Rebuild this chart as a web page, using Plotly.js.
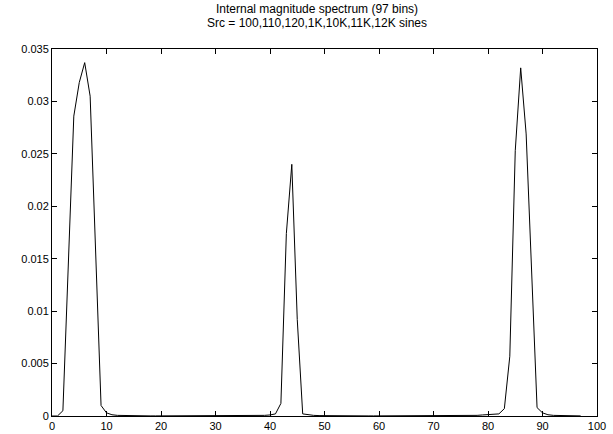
<!DOCTYPE html>
<html>
<head>
<meta charset="utf-8">
<script src="https://cdn.plot.ly/plotly-3.0.1.min.js"></script>
<style>html,body{margin:0;padding:0;background:#fff;}#chart{width:613px;height:434px;}</style>
</head>
<body>
<div id="chart"></div>
<script>
// bin index 0..97
const bins = Array.from({length: 98}, (_, i) => i);
const magnitude = [
  0, 0, 0.0005, 0.0145, 0.0286, 0.0318, 0.0337, 0.0305, 0.0160, 0.0010,   // 0-9
  0.0003, 0.00012, 0.00006, 0.00004, 0.00003, 0.00002, 0.00002, 0.00001, 0.00001, 0.00001, // 10-19
  0.00001, 0.00001, 0.00001, 0.00001, 0.00001, 0.00001, 0.00001, 0.00001, 0.00001, 0.00001, // 20-29
  0.00001, 0.00001, 0.00001, 0.00001, 0.00001, 0.00002, 0.00002, 0.00003, 0.00004, 0.00006, // 30-39
  0.0001, 0.0002, 0.0012, 0.0174, 0.0240, 0.0092, 0.0002, 0.00012, 0.00006, 0.00004,      // 40-49
  0.00003, 0.00002, 0.00002, 0.00001, 0.00001, 0.00001, 0.00001, 0.00001, 0.00001, 0.00001, // 50-59
  0.00001, 0.00001, 0.00001, 0.00001, 0.00001, 0.00001, 0.00001, 0.00001, 0.00001, 0.00001, // 60-69
  0.00001, 0.00001, 0.00001, 0.00001, 0.00002, 0.00002, 0.00003, 0.00004, 0.00006, 0.0001,  // 70-79
  0.00012, 0.00015, 0.0002, 0.0007, 0.0057, 0.0253, 0.0332, 0.0269, 0.0140, 0.0008,        // 80-89
  0.0003, 0.00012, 0.00006, 0.00004, 0.00003, 0.00002, 0.00002, 0.00001                      // 90-97
];
const xTicks = [0, 10, 20, 30, 40, 50, 60, 70, 80, 90, 100];
const yTicks = [0, 0.005, 0.01, 0.015, 0.02, 0.025, 0.03, 0.035];
const yTickText = ['0', '0.005', '0.01', '0.015', '0.02', '0.025', '0.03', '0.035'];
const titleLine1 = 'Internal magnitude spectrum (97 bins)';
const titleLine2 = 'Src = 100,110,120,1K,10K,11K,12K sines';

const fam = 'Liberation Sans, Arial, sans-serif';
const font = {family: fam, size: 11, color: '#000'};
const axisCommon = {
  showgrid: false, zeroline: false, showline: true, linecolor: '#000', linewidth: 1,
  ticks: 'inside', ticklen: 5, tickcolor: '#000', tickwidth: 1, mirror: 'ticks',
  tickfont: font
};
const plotH = 434 - 49 - 18;
Plotly.newPlot('chart', [{
  x: bins, y: magnitude, type: 'scatter', mode: 'lines',
  line: {color: '#000', width: 1}, hoverinfo: 'none'
}], {
  width: 613, height: 434,
  margin: {l: 52, r: 16, t: 49, b: 18},
  paper_bgcolor: '#fff', plot_bgcolor: '#fff',
  showlegend: false,
  font: font,
  annotations: [
    {text: titleLine1, xref: 'paper', yref: 'paper', x: 0.486, y: 1 + (49 - 9) / plotH,
     xanchor: 'center', yanchor: 'middle', showarrow: false, font: {family: fam, size: 12, color: '#000'}},
    {text: titleLine2, xref: 'paper', yref: 'paper', x: 0.486, y: 1 + (49 - 23) / plotH,
     xanchor: 'center', yanchor: 'middle', showarrow: false, font: {family: fam, size: 12, color: '#000'}}
  ],
  xaxis: Object.assign({}, axisCommon, {range: [0, 100], tickvals: xTicks, ticktext: xTicks.map(String)}),
  yaxis: Object.assign({}, axisCommon, {range: [0, 0.035], tickvals: yTicks, ticktext: yTickText})
}, {staticPlot: true});
</script>
</body>
</html>
